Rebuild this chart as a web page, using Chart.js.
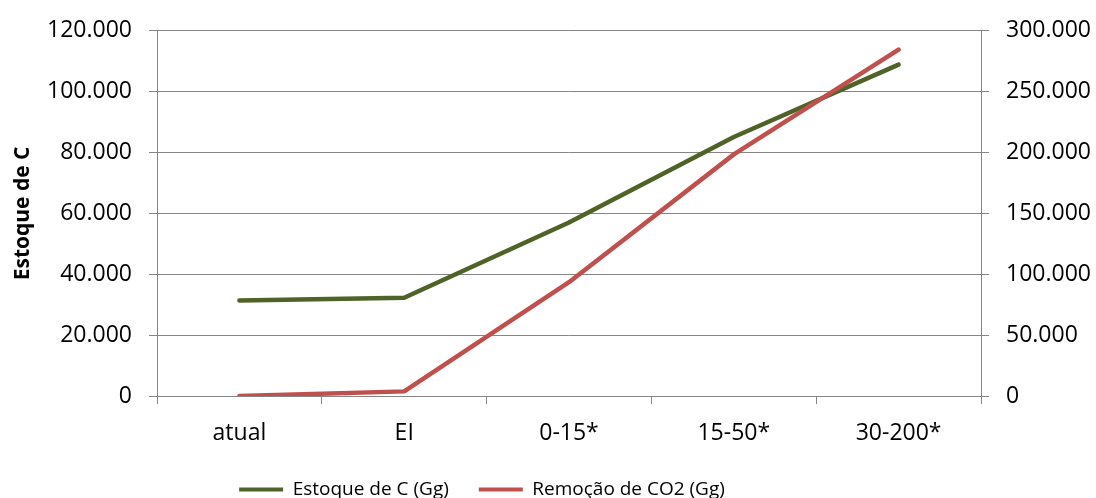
<!DOCTYPE html>
<html>
<head>
<meta charset="utf-8">
<script src="https://cdn.jsdelivr.net/npm/chart.js@4/dist/chart.umd.min.js"></script>
<style>
html,body{margin:0;padding:0;background:#fff;}
#wrap{width:1096px;height:498px;}
</style>
</head>
<body>
<div id="wrap"><canvas id="c" width="1096" height="498"></canvas></div>
<script>
const categories = ['atual', 'EI', '0-15*', '15-50*', '30-200*'];
const estoqueC = [31400, 32300, 57000, 85100, 108900];
const remocaoCO2 = [0, 3800, 93500, 198500, 284500];
const seriesNames = ['Estoque de C (Gg)', 'Remoção de CO2 (Gg)'];
const leftAxisTitle = 'Estoque de C';

function fmt(v) {
  const s = Math.round(v).toString();
  return s.replace(/\B(?=(\d{3})+(?!\d))/g, '.');
}

const FONT = "'Open Sans', 'Liberation Sans', sans-serif";
const gridColor = '#868686';

const legendShift = {
  id: 'legendShift',
  afterLayout(chart) {
    const l = chart.legend;
    if (l) { l.left -= 66; l.right -= 66; if (l.adjustHitBoxes) l.adjustHitBoxes(); }
  }
};

new Chart(document.getElementById('c'), {
  type: 'line',
  data: {
    labels: categories,
    datasets: [
      {
        label: seriesNames[0],
        data: estoqueC,
        borderColor: '#4F6228',
        backgroundColor: '#4F6228',
        borderWidth: 4.5,
        pointRadius: 0,
        tension: 0,
        borderCapStyle: 'round',
        borderJoinStyle: 'round',
        yAxisID: 'y',
        order: 1
      },
      {
        label: seriesNames[1],
        data: remocaoCO2,
        borderColor: '#C0504D',
        backgroundColor: '#C0504D',
        borderWidth: 4.5,
        pointRadius: 0,
        tension: 0,
        borderCapStyle: 'round',
        borderJoinStyle: 'round',
        yAxisID: 'y1',
        order: 0
      }
    ]
  },
  plugins: [legendShift],
  options: {
    responsive: false,
    animation: false,
    devicePixelRatio: 1,
    layout: { padding: { top: 27, left: 0, right: 0, bottom: -11 } },
    plugins: {
      tooltip: { enabled: false },
      legend: {
        position: 'bottom',
        labels: {
          font: { family: FONT, size: 19 },
          color: '#000',
          boxWidth: 44,
          boxHeight: 4,
          padding: 30,
          sort: (a, b) => a.datasetIndex - b.datasetIndex,
          generateLabels: (chart) => {
            const items = Chart.defaults.plugins.legend.labels.generateLabels(chart);
            items.forEach(it => { it.lineWidth = 0; it.fillStyle = it.strokeStyle; });
            return items;
          }
        }
      }
    },
    scales: {
      x: {
        offset: true,
        afterFit: (s) => { s.height = 54; },
        grid: { offset: true, drawOnChartArea: false, drawTicks: true, tickLength: 8, color: gridColor },
        border: { display: true, color: gridColor },
        ticks: { font: { family: FONT, size: 23 }, color: '#000', padding: 16, maxRotation: 0 }
      },
      y: {
        position: 'left',
        min: 0,
        max: 120000,
        afterFit: (s) => { s.width = 157; },
        ticks: { stepSize: 20000, font: { family: FONT, size: 23 }, color: '#000', padding: 17, callback: (v) => fmt(v) },
        grid: { color: gridColor, tickLength: 8, lineWidth: 1 },
        border: { display: true, color: gridColor },
        title: { display: true, text: leftAxisTitle, font: { family: FONT, size: 21, weight: 'bold' }, color: '#000', padding: { top: 10, bottom: 0 } }
      },
      y1: {
        position: 'right',
        min: 0,
        max: 300000,
        afterFit: (s) => { s.width = 115; },
        ticks: { stepSize: 50000, font: { family: FONT, size: 23 }, color: '#000', padding: 17, callback: (v) => fmt(v) },
        grid: { drawOnChartArea: false, color: gridColor, tickLength: 8 },
        border: { display: true, color: gridColor }
      }
    }
  }
});
</script>
</body>
</html>
